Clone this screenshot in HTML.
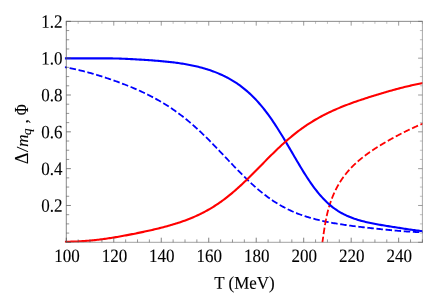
<!DOCTYPE html>
<html>
<head>
<meta charset="utf-8">
<title>Plot</title>
<style>
html, body { margin: 0; padding: 0; background: #ffffff; }
body { width: 434px; height: 305px; overflow: hidden; font-family: "Liberation Serif", serif; }
svg { display: block; }
svg text { font-family: "Liberation Serif", serif; font-size: 17px; fill: #000; stroke: #000; stroke-width: 0.12px; stroke-linejoin: round; }
</style>
</head>
<body>
<svg width="434" height="305" viewBox="0 0 434 305">
<rect x="0" y="0" width="434" height="305" fill="#ffffff"/>
<defs>
<clipPath id="plotclip"><rect x="64.70" y="20.35" width="358.00" height="222.35"/></clipPath>
</defs>
<!-- curves -->
<g fill="none" stroke-linejoin="round" clip-path="url(#plotclip)">
<path d="M64.80,67.22 L66.05,67.43 L67.30,67.64 L68.54,67.87 L69.79,68.11 L71.04,68.35 L72.29,68.60 L73.54,68.86 L74.79,69.13 L76.03,69.40 L77.28,69.68 L78.53,69.97 L79.78,70.27 L81.03,70.57 L82.27,70.88 L83.52,71.19 L84.77,71.51 L86.02,71.84 L87.27,72.18 L88.52,72.52 L89.76,72.86 L91.01,73.21 L92.26,73.57 L93.51,73.93 L94.76,74.30 L96.00,74.67 L97.25,75.04 L98.50,75.43 L99.75,75.81 L101.00,76.20 L102.24,76.60 L103.49,77.00 L104.74,77.40 L105.99,77.81 L107.24,78.23 L108.49,78.64 L109.73,79.07 L110.98,79.50 L112.23,79.93 L113.48,80.37 L114.73,80.81 L115.97,81.25 L117.22,81.71 L118.47,82.16 L119.72,82.62 L120.97,83.09 L122.22,83.56 L123.46,84.04 L124.71,84.52 L125.96,85.01 L127.21,85.51 L128.46,86.01 L129.70,86.51 L130.95,87.02 L132.20,87.54 L133.45,88.07 L134.70,88.60 L135.95,89.14 L137.19,89.69 L138.44,90.24 L139.69,90.80 L140.94,91.37 L142.19,91.95 L143.43,92.54 L144.68,93.13 L145.93,93.73 L147.18,94.35 L148.43,94.97 L149.67,95.60 L150.92,96.24 L152.17,96.89 L153.42,97.55 L154.67,98.22 L155.92,98.90 L157.16,99.59 L158.41,100.30 L159.66,101.01 L160.91,101.74 L162.16,102.48 L163.40,103.23 L164.65,103.99 L165.90,104.77 L167.15,105.56 L168.40,106.36 L169.65,107.17 L170.89,108.00 L172.14,108.85 L173.39,109.70 L174.64,110.57 L175.89,111.46 L177.13,112.35 L178.38,113.27 L179.63,114.19 L180.88,115.14 L182.13,116.09 L183.38,117.07 L184.62,118.05 L185.87,119.05 L187.12,120.07 L188.37,121.10 L189.62,122.15 L190.86,123.21 L192.11,124.28 L193.36,125.37 L194.61,126.47 L195.86,127.59 L197.11,128.72 L198.35,129.87 L199.60,131.02 L200.85,132.20 L202.10,133.38 L203.35,134.58 L204.59,135.78 L205.84,137.00 L207.09,138.23 L208.34,139.47 L209.59,140.73 L210.83,141.99 L212.08,143.26 L213.33,144.53 L214.58,145.82 L215.83,147.11 L217.08,148.41 L218.32,149.71 L219.57,151.02 L220.82,152.33 L222.07,153.65 L223.32,154.97 L224.56,156.29 L225.81,157.61 L227.06,158.93 L228.31,160.25 L229.56,161.57 L230.81,162.88 L232.05,164.19 L233.30,165.50 L234.55,166.80 L235.80,168.10 L237.05,169.39 L238.29,170.67 L239.54,171.95 L240.79,173.21 L242.04,174.47 L243.29,175.71 L244.54,176.95 L245.78,178.17 L247.03,179.37 L248.28,180.57 L249.53,181.75 L250.78,182.92 L252.02,184.07 L253.27,185.20 L254.52,186.32 L255.77,187.42 L257.02,188.50 L258.26,189.57 L259.51,190.62 L260.76,191.65 L262.01,192.66 L263.26,193.65 L264.51,194.63 L265.75,195.58 L267.00,196.51 L268.25,197.43 L269.50,198.33 L270.75,199.20 L271.99,200.06 L273.24,200.90 L274.49,201.71 L275.74,202.51 L276.99,203.29 L278.24,204.05 L279.48,204.79 L280.73,205.51 L281.98,206.22 L283.23,206.90 L284.48,207.57 L285.72,208.22 L286.97,208.85 L288.22,209.46 L289.47,210.06 L290.72,210.64 L291.97,211.20 L293.21,211.75 L294.46,212.29 L295.71,212.80 L296.96,213.30 L298.21,213.79 L299.45,214.27 L300.70,214.73 L301.95,215.17 L303.20,215.61 L304.45,216.03 L305.69,216.44 L306.94,216.83 L308.19,217.22 L309.44,217.59 L310.69,217.96 L311.94,218.31 L313.18,218.65 L314.43,218.99 L315.68,219.31 L316.93,219.62 L318.18,219.93 L319.42,220.23 L320.67,220.52 L321.92,220.80 L323.17,221.07 L324.42,221.34 L325.67,221.60 L326.91,221.85 L328.16,222.10 L329.41,222.34 L330.66,222.57 L331.91,222.80 L333.15,223.02 L334.40,223.24 L335.65,223.46 L336.90,223.66 L338.15,223.87 L339.40,224.07 L340.64,224.26 L341.89,224.45 L343.14,224.64 L344.39,224.83 L345.64,225.01 L346.88,225.18 L348.13,225.36 L349.38,225.53 L350.63,225.70 L351.88,225.86 L353.13,226.03 L354.37,226.19 L355.62,226.34 L356.87,226.50 L358.12,226.65 L359.37,226.81 L360.61,226.96 L361.86,227.10 L363.11,227.25 L364.36,227.39 L365.61,227.54 L366.85,227.68 L368.10,227.82 L369.35,227.96 L370.60,228.10 L371.85,228.23 L373.10,228.37 L374.34,228.50 L375.59,228.63 L376.84,228.76 L378.09,228.89 L379.34,229.02 L380.58,229.15 L381.83,229.28 L383.08,229.40 L384.33,229.53 L385.58,229.65 L386.83,229.77 L388.07,229.89 L389.32,230.01 L390.57,230.13 L391.82,230.24 L393.07,230.36 L394.31,230.47 L395.56,230.58 L396.81,230.69 L398.06,230.80 L399.31,230.90 L400.56,231.00 L401.80,231.10 L403.05,231.20 L404.30,231.30 L405.55,231.39 L406.80,231.48 L408.04,231.57 L409.29,231.65 L410.54,231.73 L411.79,231.81 L413.04,231.88 L414.28,231.95 L415.53,232.02 L416.78,232.08 L418.03,232.14 L419.28,232.20 L420.53,232.25 L421.77,232.30 L423.02,232.35 L424.27,232.39 L425.52,232.43 L426.77,232.46 L428.01,232.49 L429.26,232.52 L430.51,232.55 L431.76,232.57 L433.01,232.59 L434.26,232.61 L435.50,232.63 L436.75,232.64 L438.00,232.65" stroke="#0000ff" stroke-width="1.8" stroke-dasharray="6.5 2.63" stroke-dashoffset="4.25"/>
<path d="M322.39,242.30 L322.46,241.88 L322.52,241.47 L322.59,241.05 L322.65,240.64 L322.71,240.22 L322.77,239.81 L322.83,239.39 L322.89,238.97 L322.95,238.56 L323.01,238.14 L323.07,237.73 L323.13,237.31 L323.19,236.90 L323.24,236.48 L323.30,236.06 L323.36,235.65 L323.42,235.23 L323.48,234.82 L323.54,234.40 L323.60,233.99 L323.65,233.57 L323.71,233.15 L323.77,232.74 L323.83,232.32 L323.89,231.91 L323.95,231.49 L324.01,231.08 L324.07,230.66 L324.14,230.24 L324.20,229.83 L324.26,229.41 L324.32,229.00 L324.39,228.58 L324.45,228.17 L324.52,227.75 L324.58,227.33 L324.65,226.92 L324.71,226.50 L324.78,226.09 L324.85,225.67 L324.92,225.26 L324.99,224.84 L325.06,224.42 L325.13,224.01 L325.20,223.59 L325.28,223.18 L325.35,222.76 L325.42,222.35 L325.50,221.93 L325.58,221.51 L325.65,221.10 L325.73,220.68 L325.81,220.27 L325.89,219.85 L325.98,219.44 L326.06,219.02 L326.14,218.60 L326.23,218.19 L326.31,217.77 L326.40,217.36 L326.49,216.94 L326.58,216.53 L326.67,216.11 L326.76,215.69 L326.86,215.28 L326.95,214.86 L327.05,214.45 L327.15,214.03 L327.24,213.62 L327.34,213.20 L327.45,212.78 L327.55,212.37 L327.65,211.95 L327.76,211.54 L327.87,211.12 L327.97,210.71 L328.08,210.29 L328.20,209.87 L328.31,209.46 L328.42,209.04 L328.54,208.63 L328.66,208.21 L328.78,207.80 L328.90,207.38 L329.02,206.96 L329.14,206.55 L329.27,206.13 L329.40,205.72 L329.53,205.30 L329.66,204.89 L329.79,204.47 L329.92,204.05 L330.06,203.64 L330.20,203.22 L330.33,202.81 L330.48,202.39 L330.62,201.98 L330.76,201.56 L330.91,201.14 L331.06,200.73 L331.21,200.31 L331.36,199.90 L331.51,199.48 L331.67,199.07 L331.83,198.65 L331.99,198.23 L332.15,197.82 L332.31,197.40 L332.48,196.99 L332.65,196.57 L332.82,196.16 L332.99,195.74 L333.17,195.32 L333.34,194.91 L333.52,194.49 L333.70,194.08 L333.89,193.66 L334.07,193.25 L334.26,192.83 L334.45,192.41 L334.64,192.00 L334.84,191.58 L335.04,191.17 L335.24,190.75 L335.44,190.34 L335.64,189.92 L335.85,189.50 L336.06,189.09 L336.27,188.67 L336.49,188.26 L336.71,187.84 L336.93,187.43 L337.15,187.01 L337.37,186.59 L337.60,186.18 L337.84,185.76 L338.07,185.35 L338.31,184.93 L338.55,184.52 L338.79,184.10 L339.04,183.68 L339.29,183.27 L339.54,182.85 L339.79,182.44 L340.05,182.02 L340.32,181.61 L340.58,181.19 L340.85,180.77 L341.12,180.36 L341.40,179.94 L341.68,179.53 L341.96,179.11 L342.24,178.69 L342.53,178.28 L342.83,177.86 L343.12,177.45 L343.42,177.03 L343.73,176.62 L344.04,176.20 L344.35,175.78 L344.66,175.37 L344.98,174.95 L345.31,174.54 L345.63,174.12 L345.97,173.71 L346.30,173.29 L346.64,172.87 L346.99,172.46 L347.34,172.04 L347.69,171.63 L348.05,171.21 L348.41,170.80 L348.77,170.38 L349.15,169.96 L349.52,169.55 L349.90,169.13 L350.29,168.72 L350.68,168.30 L351.07,167.89 L351.47,167.47 L351.87,167.05 L352.28,166.64 L352.69,166.22 L353.11,165.81 L353.54,165.39 L353.96,164.98 L354.40,164.56 L354.84,164.14 L355.28,163.73 L355.73,163.31 L356.18,162.90 L356.64,162.48 L357.11,162.07 L357.58,161.65 L358.05,161.23 L358.53,160.82 L359.02,160.40 L359.51,159.99 L360.01,159.57 L360.51,159.16 L361.02,158.74 L361.53,158.32 L362.05,157.91 L362.57,157.49 L363.10,157.08 L363.63,156.66 L364.17,156.25 L364.72,155.83 L365.27,155.41 L365.83,155.00 L366.39,154.58 L366.96,154.17 L367.53,153.75 L368.11,153.34 L368.69,152.92 L369.28,152.50 L369.87,152.09 L370.47,151.67 L371.08,151.26 L371.69,150.84 L372.30,150.43 L372.93,150.01 L373.55,149.59 L374.18,149.18 L374.82,148.76 L375.46,148.35 L376.11,147.93 L376.76,147.52 L377.42,147.10 L378.08,146.68 L378.74,146.27 L379.41,145.85 L380.09,145.44 L380.77,145.02 L381.46,144.61 L382.15,144.19 L382.84,143.77 L383.54,143.36 L384.25,142.94 L384.96,142.53 L385.67,142.11 L386.39,141.70 L387.12,141.28 L387.84,140.86 L388.58,140.45 L389.31,140.03 L390.05,139.62 L390.80,139.20 L391.55,138.79 L392.31,138.37 L393.06,137.95 L393.83,137.54 L394.60,137.12 L395.37,136.71 L396.15,136.29 L396.93,135.88 L397.72,135.46 L398.51,135.04 L399.31,134.63 L400.11,134.21 L400.91,133.80 L401.73,133.38 L402.54,132.97 L403.37,132.55 L404.19,132.13 L405.03,131.72 L405.87,131.30 L406.71,130.89 L407.56,130.47 L408.42,130.06 L409.29,129.64 L410.16,129.22 L411.04,128.81 L411.92,128.39 L412.82,127.98 L413.72,127.56 L414.63,127.15 L415.55,126.73 L416.48,126.31 L417.42,125.90 L418.37,125.48 L419.34,125.07 L420.31,124.65 L421.30,124.24 L422.29,123.82 L423.31,123.40 L424.33,122.99 L425.38,122.57 L426.44,122.16 L427.51,121.74 L428.61,121.33 L429.72,120.91 L430.86,120.49 L432.01,120.08 L433.19,119.66 L434.40,119.25 L435.63,118.83 L436.90,118.42 L438.19,118.00" stroke="#ff0000" stroke-width="1.8" stroke-dasharray="6.5 2.63" stroke-dashoffset="0.8"/>
<path d="M64.80,58.33 L66.05,58.33 L67.30,58.33 L68.54,58.33 L69.79,58.33 L71.04,58.33 L72.29,58.33 L73.54,58.33 L74.79,58.33 L76.03,58.33 L77.28,58.33 L78.53,58.33 L79.78,58.33 L81.03,58.33 L82.27,58.33 L83.52,58.33 L84.77,58.33 L86.02,58.33 L87.27,58.33 L88.52,58.33 L89.76,58.33 L91.01,58.33 L92.26,58.33 L93.51,58.33 L94.76,58.33 L96.00,58.33 L97.25,58.33 L98.50,58.33 L99.75,58.33 L101.00,58.33 L102.24,58.33 L103.49,58.34 L104.74,58.34 L105.99,58.35 L107.24,58.36 L108.49,58.37 L109.73,58.38 L110.98,58.40 L112.23,58.42 L113.48,58.44 L114.73,58.46 L115.97,58.49 L117.22,58.53 L118.47,58.56 L119.72,58.60 L120.97,58.64 L122.22,58.69 L123.46,58.74 L124.71,58.79 L125.96,58.84 L127.21,58.90 L128.46,58.96 L129.70,59.02 L130.95,59.09 L132.20,59.15 L133.45,59.22 L134.70,59.29 L135.95,59.36 L137.19,59.43 L138.44,59.50 L139.69,59.58 L140.94,59.65 L142.19,59.73 L143.43,59.81 L144.68,59.89 L145.93,59.97 L147.18,60.05 L148.43,60.14 L149.67,60.23 L150.92,60.32 L152.17,60.41 L153.42,60.50 L154.67,60.60 L155.92,60.70 L157.16,60.80 L158.41,60.90 L159.66,61.01 L160.91,61.11 L162.16,61.23 L163.40,61.34 L164.65,61.46 L165.90,61.58 L167.15,61.71 L168.40,61.84 L169.65,61.98 L170.89,62.12 L172.14,62.26 L173.39,62.41 L174.64,62.57 L175.89,62.73 L177.13,62.89 L178.38,63.07 L179.63,63.24 L180.88,63.43 L182.13,63.62 L183.38,63.82 L184.62,64.02 L185.87,64.24 L187.12,64.46 L188.37,64.68 L189.62,64.92 L190.86,65.17 L192.11,65.42 L193.36,65.68 L194.61,65.96 L195.86,66.24 L197.11,66.53 L198.35,66.84 L199.60,67.15 L200.85,67.47 L202.10,67.81 L203.35,68.16 L204.59,68.52 L205.84,68.89 L207.09,69.28 L208.34,69.67 L209.59,70.09 L210.83,70.51 L212.08,70.95 L213.33,71.41 L214.58,71.87 L215.83,72.36 L217.08,72.86 L218.32,73.38 L219.57,73.91 L220.82,74.46 L222.07,75.03 L223.32,75.62 L224.56,76.23 L225.81,76.86 L227.06,77.50 L228.31,78.17 L229.56,78.86 L230.81,79.57 L232.05,80.31 L233.30,81.07 L234.55,81.85 L235.80,82.66 L237.05,83.49 L238.29,84.35 L239.54,85.23 L240.79,86.15 L242.04,87.09 L243.29,88.06 L244.54,89.06 L245.78,90.09 L247.03,91.16 L248.28,92.25 L249.53,93.38 L250.78,94.55 L252.02,95.75 L253.27,96.98 L254.52,98.25 L255.77,99.55 L257.02,100.90 L258.26,102.27 L259.51,103.69 L260.76,105.15 L262.01,106.64 L263.26,108.17 L264.51,109.74 L265.75,111.35 L267.00,113.00 L268.25,114.68 L269.50,116.41 L270.75,118.17 L271.99,119.96 L273.24,121.79 L274.49,123.66 L275.74,125.56 L276.99,127.49 L278.24,129.45 L279.48,131.44 L280.73,133.45 L281.98,135.49 L283.23,137.55 L284.48,139.64 L285.72,141.74 L286.97,143.85 L288.22,145.98 L289.47,148.11 L290.72,150.26 L291.97,152.40 L293.21,154.55 L294.46,156.69 L295.71,158.83 L296.96,160.95 L298.21,163.07 L299.45,165.16 L300.70,167.24 L301.95,169.30 L303.20,171.33 L304.45,173.33 L305.69,175.30 L306.94,177.24 L308.19,179.14 L309.44,181.00 L310.69,182.82 L311.94,184.60 L313.18,186.34 L314.43,188.03 L315.68,189.68 L316.93,191.27 L318.18,192.82 L319.42,194.32 L320.67,195.77 L321.92,197.17 L323.17,198.52 L324.42,199.82 L325.67,201.07 L326.91,202.27 L328.16,203.42 L329.41,204.53 L330.66,205.59 L331.91,206.61 L333.15,207.58 L334.40,208.50 L335.65,209.39 L336.90,210.24 L338.15,211.05 L339.40,211.82 L340.64,212.55 L341.89,213.25 L343.14,213.92 L344.39,214.56 L345.64,215.16 L346.88,215.74 L348.13,216.29 L349.38,216.82 L350.63,217.32 L351.88,217.80 L353.13,218.26 L354.37,218.70 L355.62,219.11 L356.87,219.51 L358.12,219.90 L359.37,220.26 L360.61,220.62 L361.86,220.95 L363.11,221.28 L364.36,221.59 L365.61,221.90 L366.85,222.19 L368.10,222.47 L369.35,222.74 L370.60,223.01 L371.85,223.27 L373.10,223.52 L374.34,223.76 L375.59,224.00 L376.84,224.23 L378.09,224.46 L379.34,224.68 L380.58,224.90 L381.83,225.11 L383.08,225.33 L384.33,225.54 L385.58,225.74 L386.83,225.95 L388.07,226.15 L389.32,226.35 L390.57,226.55 L391.82,226.75 L393.07,226.94 L394.31,227.14 L395.56,227.33 L396.81,227.53 L398.06,227.72 L399.31,227.91 L400.56,228.11 L401.80,228.30 L403.05,228.49 L404.30,228.68 L405.55,228.87 L406.80,229.05 L408.04,229.24 L409.29,229.43 L410.54,229.61 L411.79,229.79 L413.04,229.96 L414.28,230.14 L415.53,230.31 L416.78,230.47 L418.03,230.63 L419.28,230.79 L420.53,230.94 L421.77,231.08 L423.02,231.22 L424.27,231.35 L425.52,231.47 L426.77,231.59 L428.01,231.69 L429.26,231.79 L430.51,231.88 L431.76,231.97 L433.01,232.04 L434.26,232.11 L435.50,232.17 L436.75,232.22 L438.00,232.26" stroke="#0000ff" stroke-width="2.1"/>
<path d="M64.80,241.82 L66.05,241.80 L67.30,241.77 L68.54,241.74 L69.79,241.71 L71.04,241.67 L72.29,241.63 L73.54,241.59 L74.79,241.54 L76.03,241.49 L77.28,241.44 L78.53,241.38 L79.78,241.31 L81.03,241.24 L82.27,241.16 L83.52,241.08 L84.77,241.00 L86.02,240.91 L87.27,240.81 L88.52,240.71 L89.76,240.60 L91.01,240.48 L92.26,240.37 L93.51,240.24 L94.76,240.11 L96.00,239.97 L97.25,239.83 L98.50,239.68 L99.75,239.53 L101.00,239.37 L102.24,239.21 L103.49,239.04 L104.74,238.87 L105.99,238.69 L107.24,238.51 L108.49,238.33 L109.73,238.14 L110.98,237.94 L112.23,237.74 L113.48,237.54 L114.73,237.34 L115.97,237.13 L117.22,236.92 L118.47,236.70 L119.72,236.48 L120.97,236.26 L122.22,236.04 L123.46,235.81 L124.71,235.58 L125.96,235.35 L127.21,235.11 L128.46,234.88 L129.70,234.64 L130.95,234.40 L132.20,234.15 L133.45,233.91 L134.70,233.66 L135.95,233.41 L137.19,233.15 L138.44,232.90 L139.69,232.64 L140.94,232.38 L142.19,232.11 L143.43,231.85 L144.68,231.58 L145.93,231.31 L147.18,231.03 L148.43,230.76 L149.67,230.48 L150.92,230.19 L152.17,229.91 L153.42,229.62 L154.67,229.32 L155.92,229.03 L157.16,228.73 L158.41,228.42 L159.66,228.11 L160.91,227.80 L162.16,227.48 L163.40,227.15 L164.65,226.82 L165.90,226.49 L167.15,226.15 L168.40,225.80 L169.65,225.45 L170.89,225.09 L172.14,224.73 L173.39,224.35 L174.64,223.97 L175.89,223.59 L177.13,223.19 L178.38,222.79 L179.63,222.38 L180.88,221.96 L182.13,221.53 L183.38,221.09 L184.62,220.64 L185.87,220.18 L187.12,219.71 L188.37,219.23 L189.62,218.74 L190.86,218.24 L192.11,217.72 L193.36,217.19 L194.61,216.65 L195.86,216.10 L197.11,215.54 L198.35,214.96 L199.60,214.36 L200.85,213.75 L202.10,213.13 L203.35,212.49 L204.59,211.84 L205.84,211.17 L207.09,210.48 L208.34,209.78 L209.59,209.06 L210.83,208.32 L212.08,207.57 L213.33,206.80 L214.58,206.01 L215.83,205.21 L217.08,204.38 L218.32,203.54 L219.57,202.68 L220.82,201.80 L222.07,200.91 L223.32,199.99 L224.56,199.06 L225.81,198.11 L227.06,197.14 L228.31,196.15 L229.56,195.15 L230.81,194.12 L232.05,193.08 L233.30,192.03 L234.55,190.95 L235.80,189.87 L237.05,188.76 L238.29,187.64 L239.54,186.51 L240.79,185.36 L242.04,184.20 L243.29,183.02 L244.54,181.84 L245.78,180.64 L247.03,179.43 L248.28,178.21 L249.53,176.99 L250.78,175.75 L252.02,174.51 L253.27,173.26 L254.52,172.00 L255.77,170.74 L257.02,169.48 L258.26,168.21 L259.51,166.95 L260.76,165.68 L262.01,164.41 L263.26,163.14 L264.51,161.88 L265.75,160.61 L267.00,159.35 L268.25,158.10 L269.50,156.85 L270.75,155.61 L271.99,154.37 L273.24,153.15 L274.49,151.93 L275.74,150.72 L276.99,149.52 L278.24,148.33 L279.48,147.16 L280.73,145.99 L281.98,144.84 L283.23,143.70 L284.48,142.58 L285.72,141.47 L286.97,140.37 L288.22,139.29 L289.47,138.23 L290.72,137.18 L291.97,136.14 L293.21,135.12 L294.46,134.12 L295.71,133.13 L296.96,132.16 L298.21,131.21 L299.45,130.27 L300.70,129.35 L301.95,128.44 L303.20,127.55 L304.45,126.68 L305.69,125.82 L306.94,124.98 L308.19,124.16 L309.44,123.35 L310.69,122.55 L311.94,121.77 L313.18,121.01 L314.43,120.26 L315.68,119.52 L316.93,118.80 L318.18,118.09 L319.42,117.40 L320.67,116.71 L321.92,116.05 L323.17,115.39 L324.42,114.74 L325.67,114.11 L326.91,113.49 L328.16,112.88 L329.41,112.28 L330.66,111.69 L331.91,111.12 L333.15,110.55 L334.40,109.99 L335.65,109.44 L336.90,108.90 L338.15,108.37 L339.40,107.85 L340.64,107.33 L341.89,106.82 L343.14,106.32 L344.39,105.83 L345.64,105.34 L346.88,104.86 L348.13,104.39 L349.38,103.92 L350.63,103.46 L351.88,103.01 L353.13,102.56 L354.37,102.11 L355.62,101.67 L356.87,101.24 L358.12,100.81 L359.37,100.38 L360.61,99.96 L361.86,99.54 L363.11,99.13 L364.36,98.71 L365.61,98.31 L366.85,97.90 L368.10,97.50 L369.35,97.10 L370.60,96.71 L371.85,96.32 L373.10,95.93 L374.34,95.54 L375.59,95.16 L376.84,94.78 L378.09,94.40 L379.34,94.03 L380.58,93.65 L381.83,93.28 L383.08,92.91 L384.33,92.55 L385.58,92.19 L386.83,91.82 L388.07,91.47 L389.32,91.11 L390.57,90.76 L391.82,90.41 L393.07,90.07 L394.31,89.72 L395.56,89.38 L396.81,89.05 L398.06,88.71 L399.31,88.38 L400.56,88.06 L401.80,87.74 L403.05,87.42 L404.30,87.10 L405.55,86.80 L406.80,86.49 L408.04,86.19 L409.29,85.90 L410.54,85.61 L411.79,85.32 L413.04,85.04 L414.28,84.77 L415.53,84.50 L416.78,84.24 L418.03,83.99 L419.28,83.74 L420.53,83.50 L421.77,83.26 L423.02,83.03 L424.27,82.81 L425.52,82.59 L426.77,82.38 L428.01,82.18 L429.26,81.98 L430.51,81.79 L431.76,81.61 L433.01,81.43 L434.26,81.26 L435.50,81.10 L436.75,80.94 L438.00,80.79" stroke="#ff0000" stroke-width="2.1"/>
</g>
<!-- frame -->
<g fill="none" stroke-linecap="butt">
<path d="M66.30,242.70V20.95" stroke="#606060" stroke-width="0.75"/>
<path d="M65.90,21.35H422.80" stroke="#6c6c6c" stroke-width="0.8"/>
<path d="M422.40,21.35V242.70" stroke="#8c8c8c" stroke-width="0.75"/>
<path d="M65.90,242.30H422.80" stroke="#8c8c8c" stroke-width="0.8"/>
<path d="M66.30,242.30v-4.60 M113.78,242.30v-4.60 M161.26,242.30v-4.60 M208.74,242.30v-4.60 M256.22,242.30v-4.60 M303.70,242.30v-4.60 M351.18,242.30v-4.60 M398.66,242.30v-4.60 M66.30,242.30h4.60 M66.30,205.47h4.60 M66.30,168.65h4.60 M66.30,131.82h4.60 M66.30,95.00h4.60 M66.30,58.17h4.60 M66.30,21.35h4.60" stroke="#4a4a4a" stroke-width="0.7"/>
<path d="M78.17,242.30v-2.90 M90.04,242.30v-2.90 M101.91,242.30v-2.90 M125.65,242.30v-2.90 M137.52,242.30v-2.90 M149.39,242.30v-2.90 M173.13,242.30v-2.90 M185.00,242.30v-2.90 M196.87,242.30v-2.90 M220.61,242.30v-2.90 M232.48,242.30v-2.90 M244.35,242.30v-2.90 M268.09,242.30v-2.90 M279.96,242.30v-2.90 M291.83,242.30v-2.90 M315.57,242.30v-2.90 M327.44,242.30v-2.90 M339.31,242.30v-2.90 M363.05,242.30v-2.90 M374.92,242.30v-2.90 M386.79,242.30v-2.90 M410.53,242.30v-2.90 M422.40,242.30v-2.90 M66.30,233.09h2.90 M66.30,223.89h2.90 M66.30,214.68h2.90 M66.30,196.27h2.90 M66.30,187.06h2.90 M66.30,177.86h2.90 M66.30,159.44h2.90 M66.30,150.24h2.90 M66.30,141.03h2.90 M66.30,122.62h2.90 M66.30,113.41h2.90 M66.30,104.21h2.90 M66.30,85.79h2.90 M66.30,76.59h2.90 M66.30,67.38h2.90 M66.30,48.97h2.90 M66.30,39.76h2.90 M66.30,30.56h2.90" stroke="#505050" stroke-width="0.6"/>
<path d="M66.30,21.35v4.30 M113.78,21.35v4.30 M161.26,21.35v4.30 M208.74,21.35v4.30 M256.22,21.35v4.30 M303.70,21.35v4.30 M351.18,21.35v4.30 M398.66,21.35v4.30 M422.40,242.30h-4.30 M422.40,205.47h-4.30 M422.40,168.65h-4.30 M422.40,131.82h-4.30 M422.40,95.00h-4.30 M422.40,58.17h-4.30 M422.40,21.35h-4.30" stroke="#666666" stroke-width="0.65"/>
<path d="M78.17,21.35v2.50 M90.04,21.35v2.50 M101.91,21.35v2.50 M125.65,21.35v2.50 M137.52,21.35v2.50 M149.39,21.35v2.50 M173.13,21.35v2.50 M185.00,21.35v2.50 M196.87,21.35v2.50 M220.61,21.35v2.50 M232.48,21.35v2.50 M244.35,21.35v2.50 M268.09,21.35v2.50 M279.96,21.35v2.50 M291.83,21.35v2.50 M315.57,21.35v2.50 M327.44,21.35v2.50 M339.31,21.35v2.50 M363.05,21.35v2.50 M374.92,21.35v2.50 M386.79,21.35v2.50 M410.53,21.35v2.50 M422.40,21.35v2.50 M422.40,233.09h-2.50 M422.40,223.89h-2.50 M422.40,214.68h-2.50 M422.40,196.27h-2.50 M422.40,187.06h-2.50 M422.40,177.86h-2.50 M422.40,159.44h-2.50 M422.40,150.24h-2.50 M422.40,141.03h-2.50 M422.40,122.62h-2.50 M422.40,113.41h-2.50 M422.40,104.21h-2.50 M422.40,85.79h-2.50 M422.40,76.59h-2.50 M422.40,67.38h-2.50 M422.40,48.97h-2.50 M422.40,39.76h-2.50 M422.40,30.56h-2.50" stroke="#808080" stroke-width="0.5"/>
</g>
<!-- tick labels -->
<g style="filter: grayscale(1);">
<text transform="translate(66.90,262.0) rotate(0.04) scale(0.9,1)" text-anchor="middle" style="font-size:18.89px">100</text>
<text transform="translate(114.38,262.0) rotate(0.04) scale(0.9,1)" text-anchor="middle" style="font-size:18.89px">120</text>
<text transform="translate(161.86,262.0) rotate(0.04) scale(0.9,1)" text-anchor="middle" style="font-size:18.89px">140</text>
<text transform="translate(209.34,262.0) rotate(0.04) scale(0.9,1)" text-anchor="middle" style="font-size:18.89px">160</text>
<text transform="translate(256.82,262.0) rotate(0.04) scale(0.9,1)" text-anchor="middle" style="font-size:18.89px">180</text>
<text transform="translate(304.30,262.0) rotate(0.04) scale(0.9,1)" text-anchor="middle" style="font-size:18.89px">200</text>
<text transform="translate(351.78,262.0) rotate(0.04) scale(0.9,1)" text-anchor="middle" style="font-size:18.89px">220</text>
<text transform="translate(399.26,262.0) rotate(0.04) scale(0.9,1)" text-anchor="middle" style="font-size:18.89px">240</text>
<text transform="translate(62.6,211.82) rotate(0.04) scale(0.9,1)" text-anchor="end" style="font-size:18.89px">0.2</text>
<text transform="translate(62.6,175.00) rotate(0.04) scale(0.9,1)" text-anchor="end" style="font-size:18.89px">0.4</text>
<text transform="translate(62.6,138.17) rotate(0.04) scale(0.9,1)" text-anchor="end" style="font-size:18.89px">0.6</text>
<text transform="translate(62.6,101.35) rotate(0.04) scale(0.9,1)" text-anchor="end" style="font-size:18.89px">0.8</text>
<text transform="translate(62.6,64.52) rotate(0.04) scale(0.9,1)" text-anchor="end" style="font-size:18.89px">1.0</text>
<text transform="translate(62.6,27.70) rotate(0.04) scale(0.9,1)" text-anchor="end" style="font-size:18.89px">1.2</text>
<!-- axis titles -->
<text transform="translate(244.5,288.8) rotate(0.04) scale(0.944,1)" text-anchor="middle" style="font-size:18px">T (MeV)</text>
<g transform="translate(27.9,0) rotate(-90)">
<text x="-164.2" y="0" style="font-size:18.3px">&#916;</text>
<text transform="translate(-152.2,0) scale(1.22,1)" x="0" y="0">/</text>
<text x="-146.7" y="0" font-style="italic">m</text>
<text x="-135.3" y="2.8" font-style="italic" style="font-size:13.5px">q</text>
<text x="-123.6" y="0">,</text>
<text transform="translate(-115.3,0) scale(0.84,1)" x="0" y="0" style="font-size:18px">&#934;</text>
</g>
</g>
</svg>
</body>
</html>
